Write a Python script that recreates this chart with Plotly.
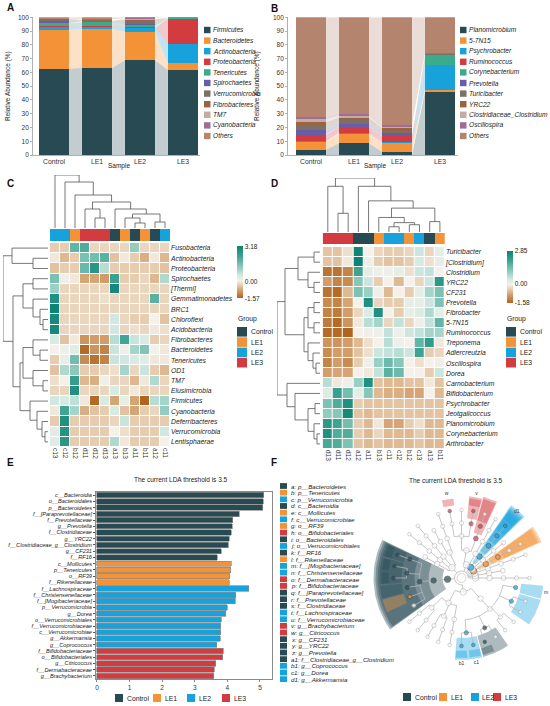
import numpy as np
import plotly.graph_objects as go

W, H = 550, 706
FONT = "Liberation Sans, Arial, sans-serif"

samples = ["Control", "LE1", "LE2", "LE3"]
group_colors = {"Control": "#284a53", "LE1": "#f39237", "LE2": "#17a2dc", "LE3": "#d23b40"}

# ---- A: phylum level relative abundance (%) per group
phylum_names = ["Firmicutes", "Bacteroidetes", "Actinobacteria", "Proteobacteria", "Tenericutes",
                "Spirochaetes", "Verrucomicrobia", "Fibrobacteres", "TM7", "Cyanobacteria", "Others"]
phylum_colors = ["#284a53", "#f39237", "#17a2dc", "#d23b40", "#3aab8b",
                 "#6a5ca8", "#7b7066", "#9a6440", "#c4aca2", "#a06c98", "#b8846f"]
phylum_abund = [
    [62.7, 63.2, 68.8, 61.7],
    [28.1, 28.3, 20.7, 4.9],
    [2.6, 1.8, 3.0, 14.0],
    [0.6, 0.5, 0.6, 18.6],
    [2.2, 2.6, 1.4, 0.1],
    [1.1, 0.5, 1.0, 0.05],
    [0.7, 0.6, 1.8, 0.1],
    [0.6, 0.4, 1.2, 0.05],
    [0.3, 0.4, 0.5, 0.1],
    [0.3, 0.3, 0.3, 0.05],
    [0.8, 1.4, 0.7, 0.25],
]

# ---- B: genus level relative abundance (%)
genus_names = ["Planomicrobium", "5-7N15", "Psychrobacter", "Ruminococcus", "Corynebacterium",
               "Prevotella", "Turicibacter", "YRC22", "Clostridiaceae_Clostridium", "Oscillospira", "Others"]
genus_colors = ["#284a53", "#f39237", "#17a2dc", "#d23b40", "#3aab8b",
                "#6a5ca8", "#7b7066", "#9a6440", "#c4aca2", "#a06c98", "#b5846f"]
genus_abund = [
    [3.9, 8.5, 2.4, 46.0],
    [5.8, 7.2, 6.6, 1.2],
    [0.3, 0.3, 0.3, 18.2],
    [4.5, 4.5, 4.5, 0.3],
    [0.3, 0.2, 0.2, 7.0],
    [3.0, 1.7, 1.7, 0.2],
    [4.3, 2.7, 2.0, 0.5],
    [1.7, 2.0, 1.7, 0.2],
    [2.4, 1.6, 1.2, 0.2],
    [1.2, 1.3, 1.4, 0.2],
    [72.6, 70.0, 78.0, 26.0],
]

# ---- C: phylum heatmap (z-scores)
c_cols = ["c13", "c12", "b12", "d11", "d12", "d13", "a13", "b13", "a11", "b11", "a12", "c11"]
c_col_groups = ["LE2", "LE2", "LE1", "LE3", "LE3", "LE3", "Control", "LE1", "Control", "LE1", "Control", "LE2"]
c_rows = ["Fusobacteria", "Actinobacteria", "Proteobacteria", "Spirochaetes", "[Thermi]", "Gemmatimonadetes",
          "BRC1", "Chloroflexi", "Acidobacteria", "Fibrobacteres", "Bacteroidetes", "Tenericutes", "OD1",
          "TM7", "Elusimicrobia", "Firmicutes", "Cyanobacteria", "Deferribacteres", "Verrucomicrobia",
          "Lentisphaerae"]
c_values = [
    [-0.4, -0.4, 1.8, 2.0, -0.3, -0.3, -0.3, -0.3, 1.2, -0.3, -0.3, -0.3],
    [-0.1, -0.6, -0.4, 1.5, 1.6, 1.9, -0.5, -0.1, -0.4, -0.7, -0.1, -0.6],
    [-0.5, -0.4, -0.4, 1.7, 2.6, 0.8, -0.4, -0.4, -0.4, -0.4, -0.4, -0.5],
    [1.5, 0.1, -0.1, -0.8, -0.8, -0.9, 2.3, -0.4, -0.4, -0.3, -0.6, 0.9],
    [1.1, -0.3, -0.3, -0.3, -0.3, -0.3, 3.0, -0.3, -0.3, -0.3, -0.3, -0.3],
    [2.8, -0.3, -0.3, -0.3, -0.3, -0.2, -0.3, -0.3, -0.3, -0.3, 1.9, -0.3],
    [3.18, -0.3, -0.3, -0.3, -0.3, -0.3, -0.3, -0.3, -0.3, -0.3, -0.3, -0.3],
    [3.0, -0.3, -0.3, -0.3, -0.3, -0.3, 0.5, -0.3, -0.4, -0.4, 0.0, -0.5],
    [3.0, -0.3, -0.3, -0.3, -0.3, -0.3, 0.5, -0.3, -0.2, -0.3, -0.1, -0.2],
    [0.4, -0.5, -0.1, -1.0, -0.9, -0.9, 0.8, 2.2, 0.6, 0.4, -0.4, -0.3],
    [0.0, 0.1, 0.3, -1.5, -1.0, -1.2, 0.6, 0.1, 1.0, 1.4, 0.0, -0.1],
    [-0.4, 0.2, 1.6, -1.1, -1.4, -1.2, 0.6, 0.5, 0.4, 0.3, -0.1, -0.1],
    [-0.5, 0.9, 1.3, -0.4, -0.4, -0.3, -0.2, 1.0, -0.3, 0.6, -0.4, -0.6],
    [-0.2, 0.0, 2.4, -0.6, -0.7, 0.1, -0.3, -0.3, -0.6, -0.1, 0.9, -0.3],
    [-0.3, -0.3, 2.8, -0.3, -0.3, -0.3, 0.4, -0.3, -0.1, -0.3, -0.3, -0.3],
    [0.5, 0.4, 0.7, -0.1, -1.5, 0.4, -0.8, 0.2, -0.8, -1.57, 0.8, 1.0],
    [-0.1, 2.2, 1.0, -0.7, -0.5, -0.4, 0.4, -0.5, -0.8, -0.4, -0.3, 1.2],
    [-0.4, 2.8, -0.4, -0.4, -0.4, -0.4, -0.3, 0.6, -0.4, -0.4, -0.4, -0.4],
    [0.3, 2.7, -0.4, -0.4, -0.4, -0.4, 0.0, -0.2, -0.4, -0.4, -0.4, 0.5],
    [0.3, 2.6, -0.4, -0.4, -0.4, -0.4, 0.9, -0.1, -0.4, -0.4, -0.4, 0.0],
]
c_zrange = [-1.57, 3.18]
# [height, left, right]
c_col_tree = [53, "c13", [46, "c12", [33, "b12", [26, [19, "d11", [10, "d12", "d13"]],
                                                  [19, "a13", [14, [10, "b13", [5, "a11", "b11"]],
                                                               [6, "a12", "c11"]]]]]]]
c_row_tree = [45, [36, "Fusobacteria", [15, "Actinobacteria", "Proteobacteria"]],
              [35, [25, [15, "Spirochaetes", "[Thermi]"],
                    [15, "Gemmatimonadetes", [8, "BRC1", [5, "Chloroflexi", "Acidobacteria"]]]],
               [28, [25, [15, "Fibrobacteres", [8, "Bacteroidetes", "Tenericutes"]],
                     [15, "OD1", [5, "TM7", "Elusimicrobia"]]],
                [18, "Firmicutes", [11, "Cyanobacteria", [6, "Deferribacteres",
                                                          [3, "Verrucomicrobia", "Lentisphaerae"]]]]]]]

# ---- D: genus heatmap (z-scores)
d_cols = ["d13", "d11", "d12", "a12", "a11", "b13", "c11", "c12", "b12", "c13", "a13", "b11"]
d_col_groups = ["LE3", "LE3", "LE3", "Control", "Control", "LE1", "LE2", "LE2", "LE1", "LE2", "Control", "LE1"]
d_rows = ["Turicibacter", "[Clostridium]", "Clostridium", "YRC22", "CF231", "Prevotella", "Fibrobacter",
          "5-7N15", "Ruminococcus", "Treponema", "Adlercreutzia", "Oscillospira", "Dorea",
          "Carnobacterium", "Bifidobacterium", "Psychrobacter", "Jeotgalicoccus", "Planomicrobium",
          "Corynebacterium", "Arthrobacter"]
d_values = [
    [-0.5, -0.5, -0.2, 2.8, 0.0, -0.3, -0.4, -0.4, -0.3, 0.5, -0.3, 0.2],
    [-0.5, -0.5, -0.1, 2.85, 0.1, -0.4, -0.5, -0.5, -0.4, 0.4, -0.2, 0.2],
    [-1.4, -1.4, -1.2, 2.0, 0.2, 0.1, 0.1, 0.2, -0.2, 0.5, 0.6, 0.0],
    [-0.9, -1.2, -1.1, 1.2, 0.5, -0.4, 0.0, -0.6, 0.0, -0.3, 0.5, 2.3],
    [-1.4, -1.5, -0.6, 1.3, 1.0, 0.1, -0.6, 0.0, -0.4, 0.2, 0.9, 1.3],
    [-1.1, -1.2, -0.8, 0.0, 2.5, -0.3, -0.4, -0.4, 0.2, 0.2, 0.5, 1.3],
    [-1.2, -1.3, -0.9, -0.3, 0.3, 2.5, 0.0, -0.4, 0.2, 0.3, 0.8, 0.2],
    [-1.3, -1.5, -1.0, -0.1, 0.7, 0.9, -0.3, 0.6, -0.3, 0.1, 0.6, 1.6],
    [-1.5, -1.5, -1.58, 0.0, 0.1, 0.1, 0.6, 0.1, 0.5, 0.6, 0.9, 0.9],
    [-1.0, -1.0, -0.9, -0.6, -0.2, 0.0, 0.7, 0.1, 0.0, 1.6, 2.2, -0.1],
    [-1.1, -0.9, -0.9, -0.5, -0.2, 0.5, 0.6, 0.7, 0.5, 2.0, -0.4, -0.3],
    [-1.2, -0.9, -1.1, -0.4, 0.1, 1.0, 1.5, 1.2, 0.0, -0.2, 0.0, 0.1],
    [-0.9, -0.8, -0.8, 0.0, -0.1, 0.6, 1.7, 1.5, 0.0, 0.0, -0.4, 0.5],
    [0.7, -0.1, 0.1, 1.0, 2.5, -0.5, -0.6, -0.6, -0.5, -0.5, -0.1, -0.5],
    [0.3, 2.1, 1.4, 0.2, 1.2, -0.6, -0.7, -0.7, -0.8, -0.8, 0.0, -0.6],
    [1.3, 1.8, 2.5, -0.4, -0.5, -0.5, -0.5, -0.5, -0.5, -0.5, -0.5, -0.5],
    [1.1, 1.2, 2.7, -0.5, -0.6, -0.5, -0.5, -0.5, -0.5, -0.5, -0.5, -0.5],
    [2.3, 2.0, 1.4, -0.4, -0.6, -0.1, -0.8, -0.8, -0.4, -0.2, -0.6, -0.6],
    [2.5, 1.8, 1.8, -0.4, -0.6, -0.3, -0.6, -0.6, -0.6, -0.4, -0.6, -0.6],
    [1.9, 1.8, 1.3, -0.5, -0.6, -0.5, -0.6, -0.6, -0.6, -0.5, -0.6, -0.6],
]
d_zrange = [-1.58, 2.85]
d_col_tree = [52, [44, "d13", [18, "d11", "d12"]],
              [44, "a12", [30, "a11", [23, [14, "b13", [9, [5, "c11", "c12"], [7, "b12", "c13"]]],
                                       [10, "a13", "b11"]]]]]
d_row_tree = [43, [35, [22, [6, "Turicibacter", "[Clostridium]"], [12, "Clostridium", [6, "YRC22", "CF231"]]],
                   [16, [12, [6, "Prevotella", "Fibrobacter"], [6, "5-7N15", "Ruminococcus"]],
                    [12, "Treponema", [7, "Adlercreutzia", [4, "Oscillospira", "Dorea"]]]]],
              [33, "Carnobacterium", [25, "Bifidobacterium",
                                      [12, [5, "Psychrobacter", "Jeotgalicoccus"],
                                       [6, "Planomicrobium", [3, "Corynebacterium", "Arthrobacter"]]]]]]

# ---- E: LDA scores
lda_labels = ["c__Bacteroidia", "o__Bacteroidales", "p__Bacteroidetes", "f__[Paraprevotellaceae]",
              "f__Prevotellaceae", "g__Prevotella", "f__Clostridiaceae", "g__YRC22",
              "f__Clostridiaceae_g__Clostridium", "g__CF231", "f__RF16",
              "c__Mollicutes", "p__Tenericutes", "o__RF39", "f__Rikenellaceae",
              "f__Lachnospiraceae", "f__Christensenellaceae", "f__[Mogibacteriaceae]", "p__Verrucomicrobia",
              "g__Dorea", "o__Verrucomicrobiales", "f__Verrucomicrobiaceae", "c__Verrucomicrobiae",
              "g__Akkermansia", "g__Coprococcus",
              "f__Bifidobacteriaceae", "o__Bifidobacteriales", "g__Citricoccus", "f__Dermabacteraceae",
              "g__Brachybacterium"]
lda_values = [5.11, 5.10, 5.09, 4.36, 4.16, 4.15, 4.12, 4.06, 4.03, 3.82, 3.69,
              4.12, 4.11, 4.07, 4.06,
              4.65, 4.25, 4.24, 4.00, 3.95, 3.81, 3.79, 3.79, 3.78, 3.68,
              3.87, 3.86, 3.65, 3.60, 3.58]
lda_groups = ["Control", "Control", "Control", "Control", "Control", "Control", "Control", "Control",
              "Control", "Control", "Control",
              "LE1", "LE1", "LE1", "LE1",
              "LE2", "LE2", "LE2", "LE2", "LE2", "LE2", "LE2", "LE2", "LE2", "LE2",
              "LE3", "LE3", "LE3", "LE3", "LE3"]

# ---- F: cladogram
f_letters = ["a", "b", "c", "d", "e", "f", "g", "h", "i", "j", "k", "l", "m", "n", "o", "p", "q", "r",
             "s", "t", "u", "v", "w", "x", "y", "z", "a1", "b1", "c1", "d1"]
f_names = ["p__Bacteroidetes", "p__Tenericutes", "p__Verrucomicrobia", "c__Bacteroidia", "c__Mollicutes",
           "c__Verrucomicrobiae", "o__RF39", "o__Bifidobacteriales", "o__Bacteroidales",
           "o__Verrucomicrobiales", "f__RF16", "f__Rikenellaceae", "f__[Mogibacteriaceae]",
           "f__Christensenellaceae", "f__Dermabacteraceae", "f__Bifidobacteriaceae",
           "f__[Paraprevotellaceae]", "f__Prevotellaceae", "f__Clostridiaceae", "f__Lachnospiraceae",
           "f__Verrucomicrobiaceae", "g__Brachybacterium", "g__Citricoccus", "g__CF231", "g__YRC22",
           "g__Prevotella", "f__Clostridiaceae_g__Clostridium", "g__Coprococcus", "g__Dorea",
           "g__Akkermansia"]
f_groups = ["Control", "LE1", "LE2", "Control", "LE1", "LE2", "LE1", "LE3", "Control", "LE2", "Control",
            "LE1", "LE2", "LE2", "LE3", "LE3", "Control", "Control", "Control", "LE2", "LE2", "LE3", "LE3",
            "Control", "Control", "Control", "Control", "LE2", "LE2", "LE2"]
clado_leaves = [
    "Spirochaetes|Spirochaetes|Spirochaetales|Spirochaetaceae|Treponema",
    "Cyanobacteria|4C0d-2|YS2",
    "Deferribacteres|Deferribacteres|Deferribacterales|Deferribacteraceae|Mucispirillum",
    "Tenericutes|Mollicutes|RF39|RF39_f|RF39_g",
    "TM7|TM7-3|CW040|F16",
    "Verrucomicrobia|Verrucomicrobiae|Verrucomicrobiales|Verrucomicrobiaceae|Akkermansia",
    "Actinobacteria|Coriobacteriia|Coriobacteriales|Coriobacteriaceae|Adlercreutzia",
    "Actinobacteria|Actinobacteria|Bifidobacteriales|Bifidobacteriaceae|Bifidobacterium",
    "Actinobacteria|Actinobacteria|Actinomycetales|Dermabacteraceae|Brachybacterium",
    "Actinobacteria|Actinobacteria|Actinomycetales|Corynebacteriaceae|Corynebacterium",
    "Actinobacteria|Actinobacteria|Actinomycetales|Micrococcaceae|Citricoccus",
    "Proteobacteria|Gammaproteobacteria|Pseudomonadales|Moraxellaceae|Psychrobacter",
    "Proteobacteria|Gammaproteobacteria|Enterobacteriales|Enterobacteriaceae",
    "Proteobacteria|Betaproteobacteria|Burkholderiales|Alcaligenaceae|Sutterella",
    "Proteobacteria|Deltaproteobacteria|Desulfovibrionales|Desulfovibrionaceae|Desulfovibrio",
    "Proteobacteria|Alphaproteobacteria|RF32",
    "Bacteroidetes|Bacteroidia|Bacteroidales|Prevotellaceae|Prevotella",
    "Bacteroidetes|Bacteroidia|Bacteroidales|[Paraprevotellaceae]|YRC22",
    "Bacteroidetes|Bacteroidia|Bacteroidales|[Paraprevotellaceae]|CF231",
    "Bacteroidetes|Bacteroidia|Bacteroidales|RF16",
    "Bacteroidetes|Bacteroidia|Bacteroidales|Rikenellaceae",
    "Bacteroidetes|Bacteroidia|Bacteroidales|S24-7",
    "Firmicutes|Bacilli|Lactobacillales|Lactobacillaceae|Lactobacillus",
    "Firmicutes|Bacilli|Lactobacillales|Carnobacteriaceae|Carnobacterium",
    "Firmicutes|Bacilli|Bacillales|Planococcaceae|Planomicrobium",
    "Firmicutes|Bacilli|Bacillales|Staphylococcaceae|Jeotgalicoccus",
    "Firmicutes|Bacilli|Turicibacterales|Turicibacteraceae|Turicibacter",
    "Firmicutes|Clostridia|Clostridiales|Lachnospiraceae|Coprococcus",
    "Firmicutes|Clostridia|Clostridiales|Lachnospiraceae|Dorea",
    "Firmicutes|Clostridia|Clostridiales|Clostridiaceae|Clostridium",
    "Firmicutes|Clostridia|Clostridiales|Clostridiaceae|SMB53",
    "Firmicutes|Clostridia|Clostridiales|Ruminococcaceae|Ruminococcus",
    "Firmicutes|Clostridia|Clostridiales|Ruminococcaceae|Oscillospira",
    "Firmicutes|Clostridia|Clostridiales|Christensenellaceae|Christensenella",
    "Firmicutes|Clostridia|Clostridiales|Christensenellaceae|Christensenellaceae_g",
    "Firmicutes|Clostridia|Clostridiales|[Mogibacteriaceae]",
]


def px(x):
    return x / W


def py(y):
    return 1 - y / H


def rgba(hexc, a):
    h = hexc.lstrip("#")
    return "rgba(%d,%d,%d,%s)" % (int(h[0:2], 16), int(h[2:4], 16), int(h[4:6], 16), a)


fig = go.Figure()
axes_cfg = {}
annotations = []
shapes = []


def refs(n):
    return ("x", "y") if n == 1 else ("x%d" % n, "y%d" % n)


def set_axes(n, xdom, ydom, xa=None, ya=None):
    xr, yr = refs(n)
    base = dict(showgrid=False, zeroline=False, showticklabels=False, ticks="", showline=False,
                fixedrange=True)
    axes_cfg["xaxis" if n == 1 else "xaxis%d" % n] = {**base, "domain": [px(xdom[0]), px(xdom[1])],
                                                      "anchor": yr, **(xa or {})}
    axes_cfg["yaxis" if n == 1 else "yaxis%d" % n] = {**base, "domain": [py(ydom[1]), py(ydom[0])],
                                                      "anchor": xr, **(ya or {})}


def ann(x, y, text, size=6.5, xanchor="left", angle=0, italic=False, bold=False, color="#222"):
    annotations.append(dict(x=px(x), y=py(y), xref="paper", yref="paper", text=text, showarrow=False,
                            xanchor=xanchor, yanchor="middle", textangle=angle, borderpad=0,
                            font=dict(size=size, color=color, family=FONT,
                                      style="italic" if italic else "normal",
                                      weight="bold" if bold else "normal")))


def rect(x0, y0, x1, y1, color):
    shapes.append(dict(type="rect", xref="paper", yref="paper", x0=px(x0), x1=px(x1),
                       y0=py(y1), y1=py(y0), fillcolor=color, line=dict(width=0)))


tick_font = dict(size=6.5, color="#333", family=FONT)


# ---------------- A and B stacked bars with flow bands
def stacked_panel(n, xdom, names, colors, abund, leg_x, ylab_x, xc):
    xr, yr = refs(n)
    left = (xdom[0] - xc) / 43.0
    right = (xdom[1] - xc) / 43.0
    set_axes(n, xdom, [17.3, 155],
             dict(range=[left, right], tickvals=[0, 1, 2, 3], ticktext=samples, showticklabels=True,
                  tickfont=dict(size=6.8, color="#333", family=FONT), showline=True, linecolor="#b0b0b0",
                  linewidth=0.8),
             dict(range=[0, 100], tickvals=list(range(0, 101, 10)), showticklabels=True,
                  tickfont=tick_font, showline=True, linecolor="#b0b0b0", linewidth=0.8,
                  ticks="outside", ticklen=2, tickcolor="#b0b0b0"))
    arr = np.array(abund)
    tops = np.cumsum(arr, axis=0)
    bots = tops - arr
    hw = 0.35
    for k, name in enumerate(names):
        bx, by = [], []
        for i in range(3):
            bx += [i + hw, i + 1 - hw, i + 1 - hw, i + hw, i + hw, None]
            by += [bots[k, i], bots[k, i + 1], tops[k, i + 1], tops[k, i], bots[k, i], None]
        fig.add_trace(go.Scatter(x=bx, y=by, mode="lines", fill="toself", line=dict(width=0),
                                 fillcolor=rgba(colors[k], 0.28), hoverinfo="skip", showlegend=False,
                                 xaxis=xr, yaxis=yr))
        fig.add_trace(go.Bar(x=[0, 1, 2, 3], y=abund[k], marker=dict(color=colors[k], line=dict(width=0)),
                             width=0.7, showlegend=False, xaxis=xr, yaxis=yr))
        ly = 30 + 10.6 * k
        rect(leg_x, ly - 3.2, leg_x + 6.5, ly + 3.2, colors[k])
        ann(leg_x + 8, ly, names[k], size=6.6, italic=True)
    ann(ylab_x, 86, "Relative Abundance (%)", size=6.5, xanchor="center", angle=-90)
    ann((xdom[0] + xdom[1]) / 2 + 2, 166.5, "Sample", size=6.5, xanchor="center")


stacked_panel(1, [33, 200], phylum_names, phylum_colors, phylum_abund, 204, 8, 54)
stacked_panel(2, [288, 458], genus_names, genus_colors, genus_abund, 460, 257, 311)


# ---------------- C and D heatmaps with dendrograms
def heat_scale(zmin, zmax):
    neg = [(1.0, "#b0641e"), (0.5, "#d7a676"), (0.25, "#e7cdb1"), (0.0, "#f5f1ea")]
    pos = [(0.15, "#d3e9e3"), (0.4, "#8ccabd"), (0.7, "#3ea492"), (1.0, "#0b8474")]
    span = zmax - zmin
    sc = [[(f * zmin - zmin) / span, c] for f, c in neg]
    sc += [[(f * zmax - zmin) / span, c] for f, c in pos]
    return sc


def tree_lines(node, pos, xs, ys):
    if isinstance(node, str):
        return pos[node], 0
    h, a, b = node
    xa_, ha = tree_lines(a, pos, xs, ys)
    xb_, hb = tree_lines(b, pos, xs, ys)
    xs.extend([xa_, xa_, xb_, xb_, None])
    ys.extend([ha, h, h, hb, None])
    return (xa_ + xb_) / 2, h


def heat_panel(nb, cols, col_groups, rows, values, zr, col_tree, row_tree, hx, hy, gy, ty, tx,
               cb_x, leg_x):
    nc, nr = len(cols), len(rows)
    # heatmap
    xr, yr = refs(nb)
    set_axes(nb, hx, hy,
             dict(range=[-0.5, nc - 0.5], tickvals=list(range(nc)), ticktext=cols, showticklabels=True,
                  tickangle=90, tickfont=dict(size=6.5, color="#333", family=FONT)),
             dict(range=[nr - 0.5, -0.5], tickvals=list(range(nr)), ticktext=rows, showticklabels=True,
                  side="right", tickfont=dict(size=6.8, color="#222", family=FONT, style="italic")))
    cy = (hy[0] + 4 + (hy[0] + 4 + 51)) / 2
    fig.add_trace(go.Heatmap(z=values, x=list(range(nc)), y=list(range(nr)), zmin=zr[0], zmax=zr[1],
                             colorscale=heat_scale(zr[0], zr[1]), xgap=1, ygap=1, hoverinfo="skip",
                             colorbar=dict(thickness=6, thicknessmode="pixels", len=52, lenmode="pixels",
                                           x=px(cb_x), xanchor="left", y=py(cy), yanchor="middle",
                                           outlinewidth=0, ticks="", xpad=0, ypad=0,
                                           tickvals=[zr[0], 0, zr[1]],
                                           ticktext=["%.2f" % zr[0], "0.00", "%.2f" % zr[1]],
                                           tickfont=dict(size=6.5, color="#222", family=FONT)),
                             xaxis=xr, yaxis=yr))
    # group annotation bar
    gidx = [samples.index(g) for g in col_groups]
    gc = [group_colors[s] for s in samples]
    dscale = [[0, gc[0]], [0.25, gc[0]], [0.25, gc[1]], [0.5, gc[1]], [0.5, gc[2]], [0.75, gc[2]],
              [0.75, gc[3]], [1, gc[3]]]
    xr, yr = refs(nb + 1)
    set_axes(nb + 1, hx, gy, dict(range=[-0.5, nc - 0.5]), dict(range=[-0.5, 0.5]))
    fig.add_trace(go.Heatmap(z=[gidx], x=list(range(nc)), y=[0], zmin=0, zmax=3, colorscale=dscale,
                             showscale=False, hoverinfo="skip", xaxis=xr, yaxis=yr))
    # column dendrogram
    xs, ys = [], []
    tree_lines(col_tree, {c: i for i, c in enumerate(cols)}, xs, ys)
    xr, yr = refs(nb + 2)
    set_axes(nb + 2, hx, ty, dict(range=[-0.5, nc - 0.5]), dict(range=[0, col_tree[0]]))
    fig.add_trace(go.Scatter(x=xs, y=ys, mode="lines", line=dict(color="#555", width=0.8),
                             hoverinfo="skip", showlegend=False, xaxis=xr, yaxis=yr))
    # row dendrogram
    xs, ys = [], []
    tree_lines(row_tree, {r: i for i, r in enumerate(rows)}, xs, ys)
    xr, yr = refs(nb + 3)
    set_axes(nb + 3, tx, hy, dict(range=[row_tree[0], 0]), dict(range=[nr - 0.5, -0.5]))
    fig.add_trace(go.Scatter(x=ys, y=xs, mode="lines", line=dict(color="#555", width=0.8),
                             hoverinfo="skip", showlegend=False, xaxis=xr, yaxis=yr))
    # group legend
    ann(leg_x, 319, "Group", size=6.8)
    for k, s in enumerate(samples):
        y0 = 327 + 10.3 * k
        rect(leg_x, y0, leg_x + 10, y0 + 9.6, group_colors[s])
        ann(leg_x + 13, y0 + 4.8, s, size=6.8)


heat_panel(3, c_cols, c_col_groups, c_rows, c_values, c_zrange, c_col_tree, c_row_tree,
           [50, 170], [243, 447], [229, 241], [175, 228], [3, 48], 237, 237)
heat_panel(7, d_cols, d_col_groups, d_rows, d_values, d_zrange, d_col_tree, d_row_tree,
           [322.7, 445], [247, 449], [233, 244], [178, 232], [277, 320], 507, 506)

# ---------------- E: LDA bar chart
xr, yr = refs(11)
set_axes(11, [96, 272], [492, 679],
         dict(range=[-0.03, 5.37], tickvals=[0, 1, 2, 3, 4, 5], showticklabels=True, tickfont=tick_font,
              showline=True, mirror=True, linecolor="#8a8a8a", linewidth=0.8, ticks="outside", ticklen=2,
              tickcolor="#8a8a8a"),
         dict(range=[len(lda_labels) - 0.5, -0.5], tickvals=list(range(len(lda_labels))),
              ticktext=lda_labels, showticklabels=True, showline=True, mirror=True, linecolor="#8a8a8a",
              linewidth=0.8, ticks="outside", ticklen=2, tickcolor="#555",
              tickfont=dict(size=5.6, color="#222", family=FONT, style="italic")))
fig.add_trace(go.Bar(x=lda_values, y=list(range(len(lda_labels))), orientation="h", width=0.86,
                     marker=dict(color=[group_colors[g] for g in lda_groups],
                                 line=dict(color="#8c8c8c", width=0.7)),
                     showlegend=False, hoverinfo="skip", xaxis=xr, yaxis=yr))
ann(181, 479, "The current LDA threshold is 3.5", size=6.5, xanchor="center")
for k, (sx, tx) in enumerate([(115, 126), (153, 164), (187, 198), (222, 233)]):
    rect(sx, 694, sx + 8, 702, group_colors[samples[k]])
    ann(tx, 698, samples[k], size=6.8)

# ---------------- F: cladogram
R_LEV = [0, 14, 28, 42, 55, 68]
step = 360.0 / len(clado_leaves)
nodes = {}
for i, lin in enumerate(clado_leaves):
    parts = lin.split("|")
    for d in range(len(parts) + 1):
        key = "|".join(parts[:d])
        nd = nodes.setdefault(key, {"depth": d, "kids": [], "leaf_ang": []})
        nd["leaf_ang"].append(i * step)
        if d > 0:
            par = "|".join(parts[:d - 1])
            if key not in nodes[par]["kids"]:
                nodes[par]["kids"].append(key)

ang = {}


def node_angle(k):
    if k in ang:
        return ang[k]
    kids = nodes[k]["kids"]
    if not kids:
        a = nodes[k]["leaf_ang"][0]
    else:
        ca = [node_angle(c) for c in kids]
        a = (min(ca) + max(ca)) / 2
    ang[k] = a
    return a


for k in nodes:
    node_angle(k)

rank_depth = {"p": 1, "c": 2, "o": 3, "f": 4, "g": 5}
marked = {}
for letter, name, grp in zip(f_letters, f_names, f_groups):
    left, nm = name.rsplit("__", 1)
    dep = rank_depth[left[-1]]
    for k, nd in nodes.items():
        if nd["depth"] == dep and k.split("|")[-1] == nm:
            marked[k] = (grp, letter)

xr, yr = refs(12)
set_axes(12, [345, 550], [485, 668], dict(range=[-116.5, 88.5]), dict(range=[-90, 93]))

# highlighted clade sectors
for k in sorted(marked, key=lambda q: nodes[q]["depth"]):
    grp = marked[k][0]
    d = nodes[k]["depth"]
    lo, hi = min(nodes[k]["leaf_ang"]), max(nodes[k]["leaf_ang"])
    pad = 4.2 + 0.4 * (5 - d)
    r0, r1 = R_LEV[d] + 5, 90 - 2 * d
    t = np.radians(np.linspace(lo - pad, hi + pad, 40))
    sx = list(r1 * np.cos(t)) + list(r0 * np.cos(t[::-1])) + [r1 * np.cos(t[0])]
    sy = list(r1 * np.sin(t)) + list(r0 * np.sin(t[::-1])) + [r1 * np.sin(t[0])]
    fig.add_trace(go.Scatter(x=sx, y=sy, mode="lines", fill="toself", line=dict(width=0),
                             fillcolor=rgba(group_colors[grp], 0.38), hoverinfo="skip", showlegend=False,
                             xaxis=xr, yaxis=yr))

# branches
lx, ly = [], []
for k, nd in nodes.items():
    if not nd["kids"]:
        continue
    r = R_LEV[nd["depth"]] if nd["depth"] > 0 else 7
    ca = [ang[c] for c in nd["kids"]]
    if len(ca) > 1:
        t = np.radians(np.linspace(min(ca), max(ca), 60))
        lx += list(r * np.cos(t)) + [None]
        ly += list(r * np.sin(t)) + [None]
    for c in nd["kids"]:
        rc = R_LEV[nodes[c]["depth"]]
        t = np.radians(ang[c])
        lx += [r * np.cos(t), rc * np.cos(t), None]
        ly += [r * np.sin(t), rc * np.sin(t), None]
fig.add_trace(go.Scatter(x=lx, y=ly, mode="lines", line=dict(color="#b8b8b8", width=0.8),
                         hoverinfo="skip", showlegend=False, xaxis=xr, yaxis=yr))

# nodes
node_size = [9, 6.5, 5.5, 4.8, 4.2, 3.6]
nx, ny, nsz, nfill, nline = [], [], [], [], []
for k, nd in nodes.items():
    r = R_LEV[nd["depth"]]
    t = np.radians(ang[k])
    nx.append(r * np.cos(t))
    ny.append(r * np.sin(t))
    nsz.append(node_size[nd["depth"]])
    if k in marked:
        nfill.append(group_colors[marked[k][0]])
        nline.append("#333333")
    else:
        nfill.append("#ffffff")
        nline.append("#9a9a9a")
fig.add_trace(go.Scatter(x=nx, y=ny, mode="markers",
                         marker=dict(size=nsz, color=nfill, line=dict(color=nline, width=0.6)),
                         hoverinfo="skip", showlegend=False, xaxis=xr, yaxis=yr))

# letter labels on outer highlighted leaves
lbx, lby, lbt = [], [], []
for k, (grp, letter) in marked.items():
    if nodes[k]["kids"] or grp in ("Control", "LE1"):
        continue
    t = np.radians(ang[k])
    lbx.append(86 * np.cos(t))
    lby.append(86 * np.sin(t))
    lbt.append(letter)
fig.add_trace(go.Scatter(x=lbx, y=lby, mode="text", text=lbt,
                         textfont=dict(size=5, color="#333", family=FONT),
                         hoverinfo="skip", showlegend=False, xaxis=xr, yaxis=yr))

ann(456, 480, "The current LDA threshold is 3.5", size=6.5, xanchor="center")
for k in range(len(f_letters)):
    yy = 486 + 6.66 * k
    rect(280, yy - 2.9, 287, yy + 2.9, group_colors[f_groups[k]])
    ann(290, yy, "%s: %s" % (f_letters[k], f_names[k]), size=6.2, italic=True)
for k, (sx, tx) in enumerate([(403, 414), (439, 450), (471, 481), (493, 504)]):
    rect(sx, 693, sx + 8, 701, group_colors[samples[k]])
    ann(tx, 697, samples[k], size=6.8)

# panel letters
for lab, x, y in [("A", 6, 8), ("B", 270, 9), ("C", 6, 184), ("D", 270, 184), ("E", 6, 462), ("F", 270, 462)]:
    ann(x, y, lab, size=10, bold=True, color="#111")

fig.update_layout(width=W, height=H, margin=dict(l=0, r=0, t=0, b=0, autoexpand=False),
                  paper_bgcolor="white", plot_bgcolor="white", showlegend=False, barmode="stack",
                  font=dict(family=FONT, size=6.5, color="#222"),
                  annotations=annotations, shapes=shapes, **axes_cfg)

fig.write_html("out.html", config={"displayModeBar": False},
               post_script="document.body.style.margin='0px';")
